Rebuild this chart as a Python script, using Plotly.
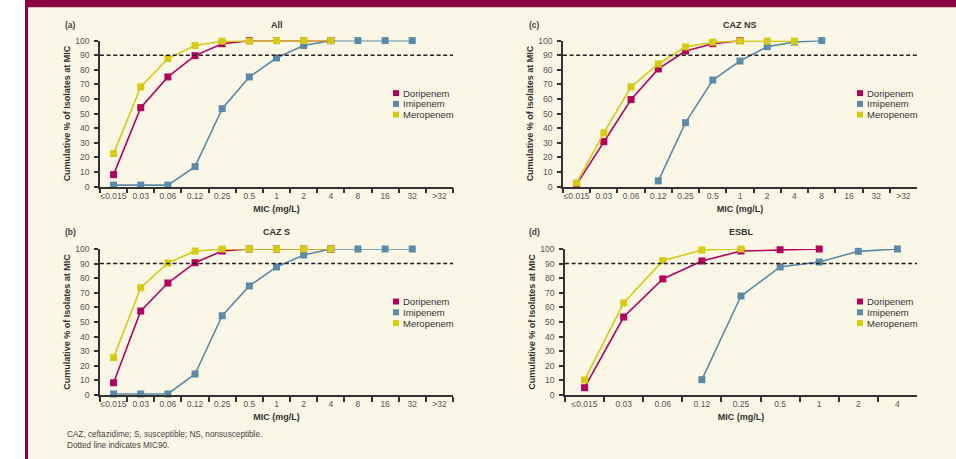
import plotly.graph_objects as go

# ---------------- data ----------------
CATS_13 = ["≤0.015", "0.03", "0.06", "0.12", "0.25", "0.5", "1", "2", "4", "8", "16", "32", ">32"]
CATS_9 = CATS_13[:9]
SERIES = ["Doripenem", "Imipenem", "Meropenem"]

# (a) All
ALL_DORI = [8.2, 54.1, 75.1, 89.7, 97.9, 100, 100, 100, 100, None, None, None, None]
ALL_IMI = [1, 1, 1, 13.7, 53.4, 75.1, 88.1, 96.6, 100, 100, 100, 100, None]
ALL_MERO = [22.6, 68.3, 87.7, 96.6, 99.6, 99.6, 100, 100, 100, None, None, None, None]

# (b) CAZ S
CAZS_DORI = [8.4, 57.5, 76.7, 90.6, 98.6, 100, 100, 100, 100, None, None, None, None]
CAZS_IMI = [0.7, 0.7, 0.7, 14.4, 54.3, 74.7, 87.7, 95.9, 100, 100, 100, 100, None]
CAZS_MERO = [25.6, 73.5, 90.4, 98.6, 100, 100, 100, 100, 100, None, None, None, None]

# (c) CAZ NS
CAZNS_DORI = [1.5, 30.8, 59.6, 80.6, 92.9, 97.9, 100, None, None, None, None, None, None]
CAZNS_IMI = [None, None, None, 3.9, 43.8, 73.0, 86.0, 95.9, 99.0, 100, None, None, None]
CAZNS_MERO = [2.5, 36.8, 68.3, 84.0, 95.7, 98.9, 99.7, 99.7, 99.6, None, None, None, None]

# (d) ESBL
ESBL_DORI = [5.0, 53.4, 79.5, 91.8, 98.6, 99.5, 100, None, None]
ESBL_IMI = [None, None, None, 10.5, 67.8, 87.7, 91.1, 98.4, 100]
ESBL_MERO = [10.3, 63.0, 92.0, 99.3, 100, None, None, None, None]

MIC90 = 90

# ---------------- styling ----------------
FONT = "Liberation Sans, Arial, sans-serif"
BG = "#FAF7E7"
MAGENTA = "#8C0046"
COLORS = {"Doripenem": "#B4035C", "Imipenem": "#5B8BA8", "Meropenem": "#D5CC12"}
AXIS = "#333333"
TICKTXT = "#555555"

W, H = 956, 459


def px(x):
    return x / W


def py(y):
    return 1 - y / H


panels = [
    dict(cats=CATS_13, data=[ALL_DORI, ALL_IMI, ALL_MERO], xd=(100, 453), yd=(40.6, 186.6),
         letter="(a)", title="All", lx=62.5, ty=25, legx=396),
    dict(cats=CATS_13, data=[CAZNS_DORI, CAZNS_IMI, CAZNS_MERO], xd=(563, 917), yd=(40.6, 186.6),
         letter="(c)", title="CAZ NS", lx=527, ty=25, legx=860),
    dict(cats=CATS_13, data=[CAZS_DORI, CAZS_IMI, CAZS_MERO], xd=(100, 453), yd=(249, 395),
         letter="(b)", title="CAZ S", lx=62.5, ty=232, legx=396),
    dict(cats=CATS_9, data=[ESBL_DORI, ESBL_IMI, ESBL_MERO], xd=(565, 917), yd=(249, 395),
         letter="(d)", title="ESBL", lx=527, ty=232, legx=860),
]

fig = go.Figure()
annotations = []
shapes = [
    dict(type="rect", xref="paper", yref="paper", x0=0, x1=px(25), y0=0, y1=1,
         fillcolor="white", line_width=0, layer="below"),
    dict(type="rect", xref="paper", yref="paper", x0=px(25), x1=1, y0=py(7.3), y1=1,
         fillcolor=MAGENTA, line_width=0, layer="below"),
    dict(type="rect", xref="paper", yref="paper", x0=px(25), x1=px(28), y0=0, y1=1,
         fillcolor=MAGENTA, line_width=0, layer="below"),
]
layout_axes = {}

draw_order = [1, 0, 2]  # Imipenem, Doripenem, Meropenem (meropenem on top)

for i, p in enumerate(panels):
    n = i + 1
    xa = "x" if n == 1 else f"x{n}"
    ya = "y" if n == 1 else f"y{n}"
    xkey = "xaxis" if n == 1 else f"xaxis{n}"
    ykey = "yaxis" if n == 1 else f"yaxis{n}"

    for k in draw_order:
        name = SERIES[k]
        fig.add_trace(go.Scatter(
            x=p["cats"], y=p["data"][k], name=name, mode="lines+markers",
            xaxis=xa, yaxis=ya, showlegend=False, cliponaxis=False,
            line=dict(color=COLORS[name], width=1.6),
            marker=dict(symbol="square", size=7, color=COLORS[name]),
        ))

    layout_axes[xkey] = dict(
        domain=[px(p["xd"][0]), px(p["xd"][1])], anchor=ya,
        type="category", categoryorder="array", categoryarray=p["cats"],
        range=[-0.5, len(p["cats"]) - 0.5], tickson="boundaries", tickangle=0,
        ticks="outside", ticklen=5, tickwidth=1.5, tickcolor=AXIS,
        showline=True, linecolor=AXIS, linewidth=1.5, showgrid=False, zeroline=False,
        tickfont=dict(family=FONT, size=8.5, color=TICKTXT), automargin=False,
        title=dict(text="<b>MIC (mg/L)</b>", font=dict(family=FONT, size=9, color=AXIS), standoff=6),
    )
    layout_axes[ykey] = dict(
        domain=[py(p["yd"][1]), py(p["yd"][0])], anchor=xa,
        range=[0, 100], tickmode="array", tickvals=list(range(0, 101, 10)),
        ticks="outside", ticklen=4, tickwidth=1.5, tickcolor=AXIS,
        showline=True, linecolor=AXIS, linewidth=1.5, showgrid=False, zeroline=False,
        tickfont=dict(family=FONT, size=8.5, color=TICKTXT), automargin=False,
        ticklabelstandoff=3,
        title=dict(text="<b>Cumulative % of Isolates at MIC</b>",
                   font=dict(family=FONT, size=9, color=AXIS), standoff=3),
    )

    # MIC90 reference line
    shapes.append(dict(type="line", xref=f"{xa} domain", yref=ya, x0=0, x1=1, y0=MIC90, y1=MIC90,
                       line=dict(color="#222222", width=1.5, dash="4px,2.6px")))

    # panel letter and title
    annotations.append(dict(xref="paper", yref="paper", x=px(p["lx"]), y=py(p["ty"]),
                            xanchor="left", yanchor="middle", showarrow=False, text="<b>" + p["letter"] + "</b>",
                            font=dict(family=FONT, size=8.5, color="#444444")))
    cx = (p["xd"][0] + p["xd"][1]) / 2
    annotations.append(dict(xref="paper", yref="paper", x=px(cx), y=py(p["ty"]),
                            xanchor="center", yanchor="middle", showarrow=False, text="<b>" + p["title"] + "</b>",
                            font=dict(family=FONT, size=9, color="#333333")))

    # legend
    ly0 = p["yd"][0] + 52.5
    for j, name in enumerate(SERIES):
        yc = ly0 + j * 10.8
        shapes.append(dict(type="rect", xref="paper", yref="paper",
                           x0=px(p["legx"] - 3), x1=px(p["legx"] + 3), y0=py(yc + 3), y1=py(yc - 3),
                           fillcolor=COLORS[name], line_width=0))
        annotations.append(dict(xref="paper", yref="paper", x=px(p["legx"] + 5), y=py(yc),
                                xanchor="left", yanchor="middle", showarrow=False, text=name,
                                font=dict(family=FONT, size=9.5, color="#333333")))

# footnote
annotations.append(dict(xref="paper", yref="paper", x=px(65), y=py(434), xanchor="left", yanchor="middle",
                        showarrow=False, text="CAZ, ceftazidime; S, susceptible; NS, nonsusceptible.",
                        font=dict(family=FONT, size=8.2, color="#444444")))
annotations.append(dict(xref="paper", yref="paper", x=px(65), y=py(445), xanchor="left", yanchor="middle",
                        showarrow=False, text="Dotted line indicates MIC90.",
                        font=dict(family=FONT, size=8.2, color="#444444")))

fig.update_layout(
    width=W, height=H, autosize=False,
    margin=dict(l=0, r=0, t=0, b=0, pad=0),
    paper_bgcolor=BG, plot_bgcolor=BG,
    font=dict(family=FONT, color=AXIS),
    shapes=shapes, annotations=annotations,
    **layout_axes,
)

fig.write_html("out.html", config={"displayModeBar": False},
               post_script="document.body.style.margin='0';document.body.style.overflow='hidden';")
